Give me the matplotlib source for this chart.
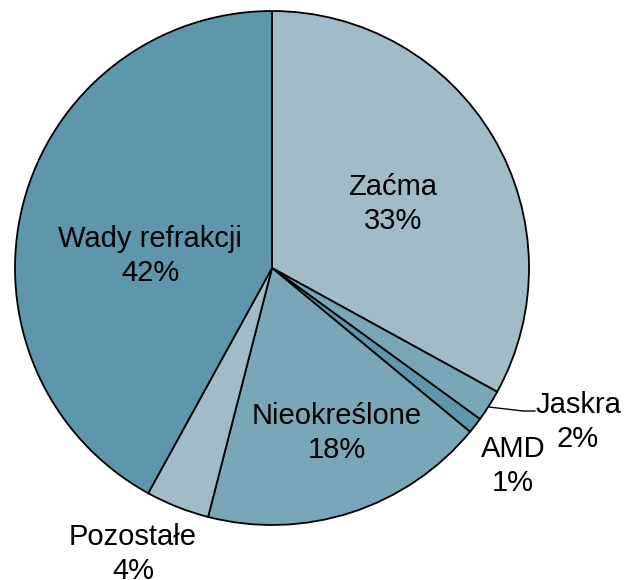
import matplotlib
matplotlib.use('Agg')
import matplotlib.pyplot as plt

# data
categories = ['Zaćma', 'Jaskra', 'AMD', 'Nieokreślone', 'Pozostałe', 'Wady refrakcji']
values = [33, 2, 1, 18, 4, 42]
colors = ['#a1bbc7', '#79a7b7', '#5e97ab', '#79a7b7', '#a1bbc7', '#5e97ab']

# label positions in pixel space (x from left, y from top)
label_pos = {
    'Zaćma': (393, 204),
    'Jaskra': (578, 422),
    'AMD': (513, 466),
    'Nieokreślone': (337, 433),
    'Pozostałe': (133, 554),
    'Wady refrakcji': (150, 256),
}

W, H = 624, 580
plt.rcParams['font.family'] = ['Liberation Sans', 'DejaVu Sans']

fig = plt.figure(figsize=(W / 100, H / 100), dpi=100)
ax = fig.add_axes([0, 0, 1, 1])
ax.set_xlim(0, W)
ax.set_ylim(H, 0)
ax.set_aspect('equal')
ax.axis('off')

cx, cy, r = 272, 268, 257
# y axis is inverted, so counterclock=True draws clockwise on screen
wedges, _ = ax.pie(values, colors=colors, startangle=-90, counterclock=True,
                   center=(cx, cy), radius=r, frame=True,
                   wedgeprops=dict(edgecolor='black', linewidth=1.3))
ax.set_xlim(0, W)
ax.set_ylim(H, 0)
ax.axis('off')

for name, v in zip(categories, values):
    x, y = label_pos[name]
    ax.text(x, y, f'{name}\n{v}%', ha='center', va='center', fontsize=21,
            linespacing=1.25, color='black')

# leader line for Jaskra
ax.plot([489, 523, 535], [407, 411, 411], color='black', linewidth=1.0)

fig.savefig('out.png', dpi=100)
